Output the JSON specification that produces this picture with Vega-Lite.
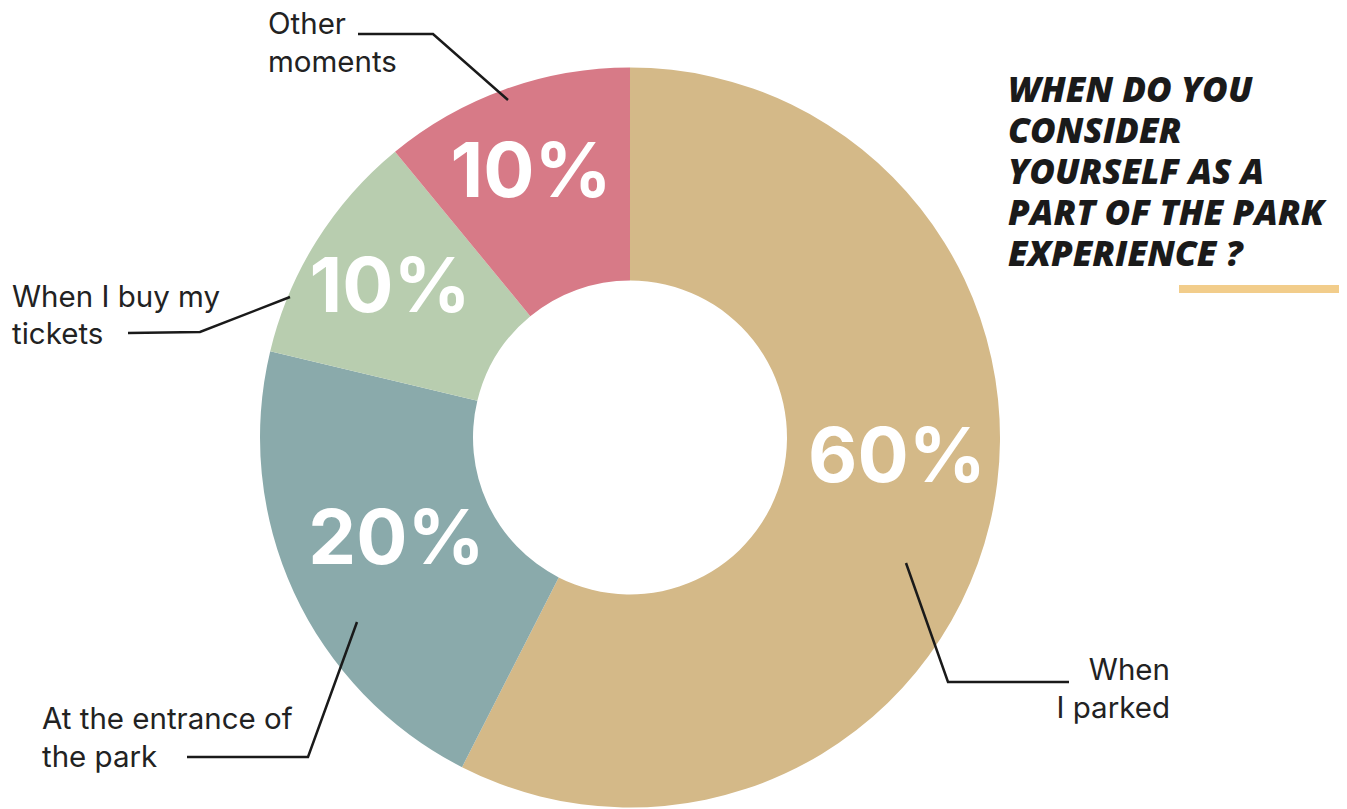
{
  "$schema": "https://vega.github.io/schema/vega-lite/v6.json",
  "width": 1260,
  "height": 741,
  "autosize": "none",
  "padding": {"left": 0, "top": 67, "right": 87, "bottom": 1},
  "background": "white",
  "config": {"view": {"stroke": null}},
  "datasets": {
    "slices": [
      {"category": "When I parked", "value": 57.5, "order": 1},
      {"category": "At the entrance of the park", "value": 21.25, "order": 2},
      {"category": "When I buy my tickets", "value": 10.3, "order": 3},
      {"category": "Other moments", "value": 10.95, "order": 4}
    ],
    "pct": [
      {"text": "60%", "x": 267, "y": -44.5},
      {"text": "20%", "x": -233.5, "y": -126.5},
      {"text": "10%", "x": -240, "y": 125.5},
      {"text": "10%", "x": -99, "y": 240.5}
    ],
    "labels": [
      {"text": "Other", "x": -362, "y": 403.5, "side": "left"},
      {"text": "moments", "x": -362, "y": 365.5, "side": "left"},
      {"text": "When I buy my", "x": -618, "y": 130.5, "side": "left"},
      {"text": "tickets", "x": -618, "y": 93.5, "side": "left"},
      {"text": "At the entrance of", "x": -588, "y": -291.5, "side": "left"},
      {"text": "the park", "x": -588, "y": -329.5, "side": "left"},
      {"text": "When", "x": 540, "y": -242.5, "side": "right"},
      {"text": "I parked", "x": 540, "y": -280.5, "side": "right"}
    ],
    "leaders": [
      {"id": "other", "seq": 1, "x": -272, "y": 403.5},
      {"id": "other", "seq": 2, "x": -197, "y": 403.5},
      {"id": "other", "seq": 3, "x": -122, "y": 337.5},
      {"id": "tickets", "seq": 1, "x": -502, "y": 104.5},
      {"id": "tickets", "seq": 2, "x": -430, "y": 105.5},
      {"id": "tickets", "seq": 3, "x": -340, "y": 140.5},
      {"id": "entrance", "seq": 1, "x": -443, "y": -319.5},
      {"id": "entrance", "seq": 2, "x": -322, "y": -319.5},
      {"id": "entrance", "seq": 3, "x": -273, "y": -184.5},
      {"id": "parked", "seq": 1, "x": 276, "y": -125.5},
      {"id": "parked", "seq": 2, "x": 318, "y": -244.5},
      {"id": "parked", "seq": 3, "x": 439, "y": -244.5}
    ],
    "title": [
      {"line": "WHEN DO YOU", "x": 378, "y": 335.5},
      {"line": "CONSIDER", "x": 378, "y": 294.5},
      {"line": "YOURSELF AS A", "x": 378, "y": 253.5},
      {"line": "PART OF THE PARK", "x": 378, "y": 212.5},
      {"line": "EXPERIENCE ?", "x": 378, "y": 171.5}
    ],
    "bar": [{"x": 549, "x2": 709, "y": 152.5, "y2": 144.5}]
  },
  "layer": [
    {
      "data": {"name": "slices"},
      "mark": {"type": "arc", "outerRadius": 370, "innerRadius": 157, "stroke": null},
      "encoding": {
        "theta": {"field": "value", "type": "quantitative", "stack": true},
        "order": {"field": "order", "type": "quantitative", "sort": "ascending"},
        "color": {
          "field": "category",
          "type": "nominal",
          "scale": {
            "domain": ["When I parked", "At the entrance of the park", "When I buy my tickets", "Other moments"],
            "range": ["#D4B988", "#8AAAAB", "#B8CDAF", "#D77A87"]
          },
          "legend": null
        }
      }
    },
    {
      "data": {"name": "pct"},
      "mark": {"type": "text", "font": "Inter", "fontWeight": "bold", "fontSize": 76, "color": "white", "align": "center", "baseline": "alphabetic"},
      "encoding": {
        "x": {"field": "x", "type": "quantitative", "scale": {"domain": [-630, 630], "nice": false, "zero": false}, "axis": null},
        "y": {"field": "y", "type": "quantitative", "scale": {"domain": [-370.5, 370.5], "nice": false, "zero": false}, "axis": null},
        "text": {"field": "text"}
      }
    },
    {
      "data": {"name": "leaders"},
      "mark": {"type": "line", "stroke": "#1a1a1a", "strokeWidth": 2.5, "strokeJoin": "miter"},
      "encoding": {
        "x": {"field": "x", "type": "quantitative", "scale": {"domain": [-630, 630], "nice": false, "zero": false}, "axis": null},
        "y": {"field": "y", "type": "quantitative", "scale": {"domain": [-370.5, 370.5], "nice": false, "zero": false}, "axis": null},
        "detail": {"field": "id"},
        "order": {"field": "seq", "type": "quantitative"}
      }
    },
    {
      "data": {"name": "labels"},
      "transform": [{"filter": "datum.side === 'left'"}],
      "mark": {"type": "text", "font": "Inter", "fontSize": 29.5, "color": "#222222", "align": "left", "baseline": "alphabetic"},
      "encoding": {
        "x": {"field": "x", "type": "quantitative", "scale": {"domain": [-630, 630], "nice": false, "zero": false}, "axis": null},
        "y": {"field": "y", "type": "quantitative", "scale": {"domain": [-370.5, 370.5], "nice": false, "zero": false}, "axis": null},
        "text": {"field": "text"}
      }
    },
    {
      "data": {"name": "labels"},
      "transform": [{"filter": "datum.side === 'right'"}],
      "mark": {"type": "text", "font": "Inter", "fontSize": 29.5, "color": "#222222", "align": "right", "baseline": "alphabetic"},
      "encoding": {
        "x": {"field": "x", "type": "quantitative", "scale": {"domain": [-630, 630], "nice": false, "zero": false}, "axis": null},
        "y": {"field": "y", "type": "quantitative", "scale": {"domain": [-370.5, 370.5], "nice": false, "zero": false}, "axis": null},
        "text": {"field": "text"}
      }
    },
    {
      "data": {"name": "title"},
      "mark": {"type": "text", "font": "Open Sans", "fontWeight": 800, "fontStyle": "italic", "fontSize": 35, "color": "#1a1a1a", "align": "left", "baseline": "alphabetic"},
      "encoding": {
        "x": {"field": "x", "type": "quantitative", "scale": {"domain": [-630, 630], "nice": false, "zero": false}, "axis": null},
        "y": {"field": "y", "type": "quantitative", "scale": {"domain": [-370.5, 370.5], "nice": false, "zero": false}, "axis": null},
        "text": {"field": "line"}
      }
    },
    {
      "data": {"name": "bar"},
      "mark": {"type": "rect", "color": "#F2CD8B"},
      "encoding": {
        "x": {"field": "x", "type": "quantitative", "scale": {"domain": [-630, 630], "nice": false, "zero": false}, "axis": null},
        "x2": {"field": "x2"},
        "y": {"field": "y", "type": "quantitative", "scale": {"domain": [-370.5, 370.5], "nice": false, "zero": false}, "axis": null},
        "y2": {"field": "y2"}
      }
    }
  ]
}
